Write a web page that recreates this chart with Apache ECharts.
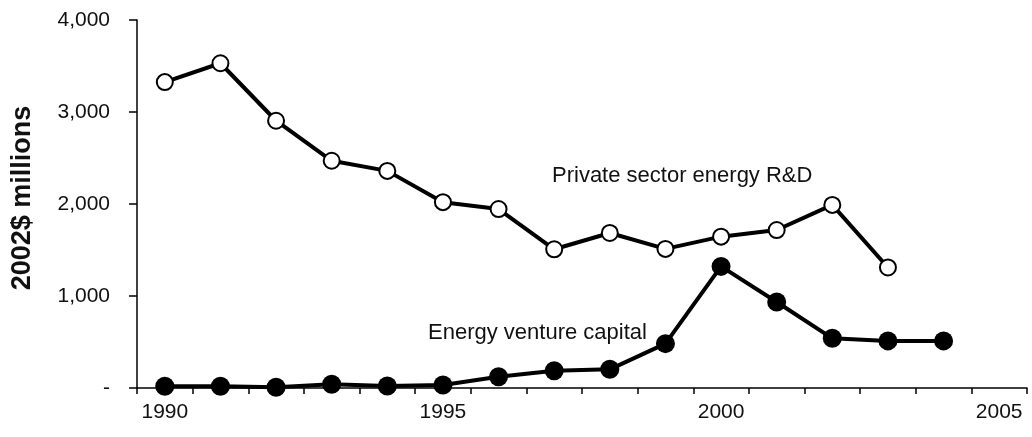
<!DOCTYPE html>
<html>
<head>
<meta charset="utf-8">
<script src="https://cdn.jsdelivr.net/npm/echarts@6/dist/echarts.min.js"></script>
<style>
html,body{margin:0;padding:0;background:#fff;}
#chart{width:1032px;height:437px;}
</style>
</head>
<body>
<div id="chart"></div>
<script>
var years = ['1990','1991','1992','1993','1994','1995','1996','1997','1998','1999','2000','2001','2002','2003','2004','2005'];
var privateRD = [3325, 3530, 2905, 2470, 2360, 2020, 1945, 1508, 1685, 1512, 1645, 1717, 1990, 1310, null, null];
var ventureCapital = [20, 20, 8, 40, 22, 33, 123, 188, 203, 482, 1322, 935, 540, 512, 512, null];
var yTicks = [0, 1000, 2000, 3000, 4000];
var yAxisTitle = '2002$ millions';
var labelPrivate = 'Private sector energy R&D';
var labelVenture = 'Energy venture capital';

var font = '"Liberation Sans", Arial, Helvetica, sans-serif';
var chart = echarts.init(document.getElementById('chart'));
chart.setOption({
  animation: false,
  backgroundColor: '#fff',
  grid: {left: 137, right: 5, top: 20, bottom: 49, containLabel: false},
  xAxis: {
    type: 'category',
    data: years,
    boundaryGap: true,
    axisLine: {lineStyle: {color: '#000', width: 1.5}},
    axisTick: {show: true, interval: 0, length: 6, lineStyle: {color: '#000', width: 1.5}},
    axisLabel: {interval: 4, color: '#111', fontFamily: font, fontSize: 21, margin: 14},
    splitLine: {show: false}
  },
  yAxis: {
    type: 'value',
    min: yTicks[0],
    max: yTicks[yTicks.length - 1],
    interval: 1000,
    name: yAxisTitle,
    nameLocation: 'middle',
    nameRotate: 90,
    nameGap: 101,
    nameTextStyle: {fontFamily: font, fontSize: 27, fontWeight: 'bold', color: '#111', padding: [0, 0, 0, 12]},
    axisLine: {show: true, lineStyle: {color: '#000', width: 1.5}},
    axisTick: {show: true, length: 8, lineStyle: {color: '#000', width: 1.5}},
    axisLabel: {
      color: '#111', fontFamily: font, fontSize: 21, margin: 27,
      formatter: function (v) { return v === 0 ? '-' : v.toLocaleString('en-US'); }
    },
    splitLine: {show: false}
  },
  series: [
    {
      name: labelVenture,
      type: 'line',
      data: ventureCapital,
      symbol: 'circle',
      symbolSize: 19,
      lineStyle: {color: '#000', width: 4},
      itemStyle: {color: '#000', borderColor: '#000', borderWidth: 0}
    },
    {
      name: labelPrivate,
      type: 'line',
      data: privateRD,
      symbol: 'circle',
      symbolSize: 16,
      lineStyle: {color: '#000', width: 4},
      itemStyle: {color: '#fff', borderColor: '#000', borderWidth: 2}
    }
  ],
  graphic: [
    {type: 'text', left: 552, top: 165, style: {text: labelPrivate, fontFamily: font, fontSize: 22, fill: '#111'}},
    {type: 'text', left: 428, top: 322, style: {text: labelVenture, fontFamily: font, fontSize: 22, fill: '#111'}}
  ]
});
</script>
</body>
</html>
